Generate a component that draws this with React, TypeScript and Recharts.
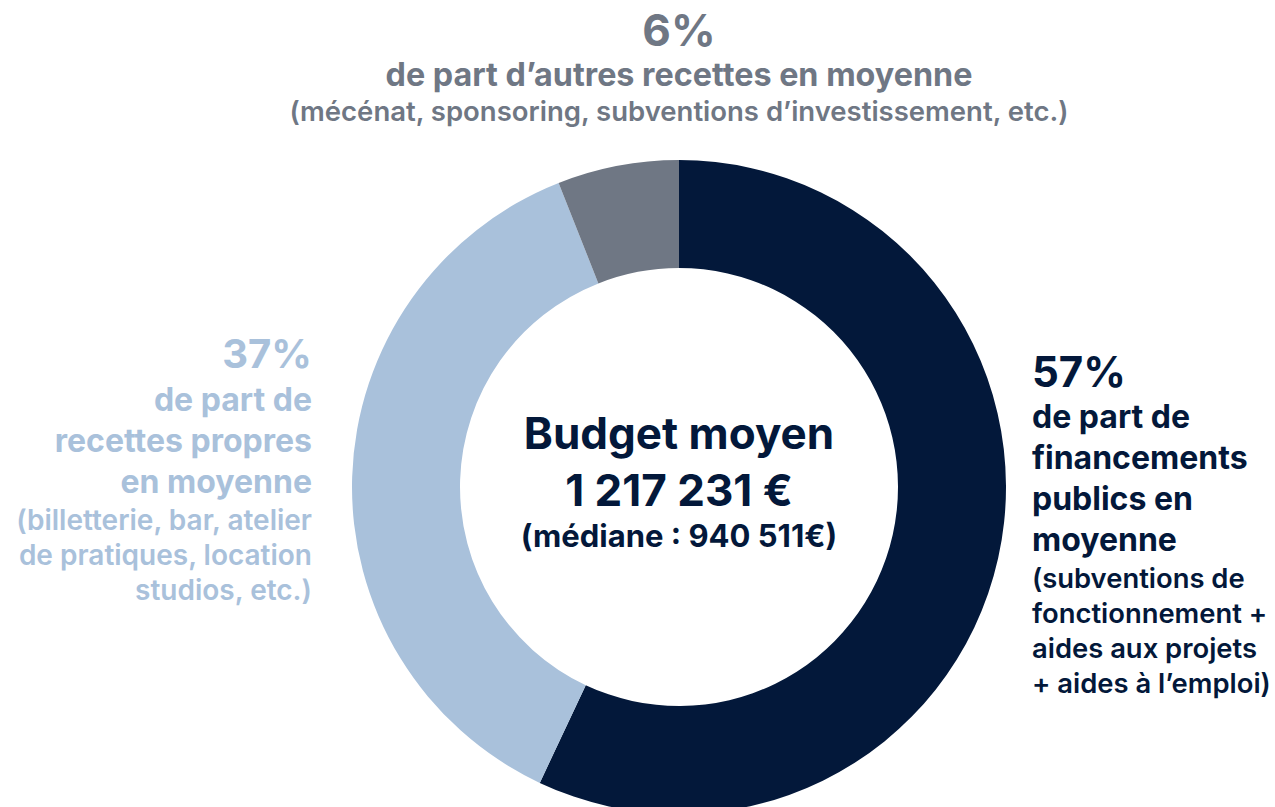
import React from 'react';
import { PieChart, Pie, Cell } from 'recharts';

// parts du budget moyen (%)
const categories = ['Financements publics', 'Recettes propres', 'Autres recettes'];
const shares = [57, 37, 6];
const COLORS = ['#03183a', '#a9c1db', '#6f7784'];

const budgetLines = ['Budget moyen', '1 217 231 €', '(médiane : 940 511€)'];
const publicLines = ['de part de', 'financements', 'publics en', 'moyenne'];
const publicNotes = ['(subventions de', 'fonctionnement +', 'aides aux projets', '+ aides à l’emploi)'];
const ownLines = ['de part de', 'recettes propres', 'en moyenne'];
const ownNotes = ['(billetterie, bar, atelier', 'de pratiques, location', 'studios, etc.)'];
const otherLines = ['de part d’autres recettes en moyenne'];
const otherNotes = ['(mécénat, sponsoring, subventions d’investissement, etc.)'];

const data = categories.map((name, i) => ({ name, value: shares[i] }));

const FONT = 'Inter, "Noto Sans", sans-serif';

const W = 1275;
const H = 807;
const CX = 679;
const CY = 487;

export default function App() {
  return (
    <div style={{ position: 'absolute', left: 0, top: 0, width: W, height: H, background: '#fff', fontFamily: FONT }}>
      <PieChart width={W} height={H} margin={{ top: 0, right: 0, bottom: 0, left: 0 }}>
        <Pie
          data={data}
          dataKey="value"
          cx={CX}
          cy={CY}
          innerRadius={219}
          outerRadius={327}
          startAngle={90}
          endAngle={-270}
          stroke="none"
          isAnimationActive={false}
        >
          {data.map((_d, i) => (
            <Cell key={`cell-${i}`} fill={COLORS[i]} />
          ))}
        </Pie>

        {/* centre */}
        <g fontFamily={FONT} fontWeight={700} fill={COLORS[0]} textAnchor="middle">
          <text x={CX} y={449} fontSize={44}>{budgetLines[0]}</text>
          <text x={CX} y={506} fontSize={44}>{budgetLines[1]}</text>
          <text x={CX} y={547} fontSize={31}>{budgetLines[2]}</text>
        </g>

        {/* haut : autres recettes */}
        <g fontFamily={FONT} fill={COLORS[2]} textAnchor="middle">
          <text x={CX} y={46} fontSize={44} fontWeight={700}>{`${shares[2]}%`}</text>
          {otherLines.map((t, i) => (
            <text key={t} x={CX} y={86 + i * 36} fontSize={32.3} fontWeight={700}>{t}</text>
          ))}
          {otherNotes.map((t, i) => (
            <text key={t} x={CX} y={121 + i * 34} fontSize={27.5} fontWeight={600}>{t}</text>
          ))}
        </g>

        {/* gauche : recettes propres */}
        <g fontFamily={FONT} fill={COLORS[1]} textAnchor="end">
          <text x={312} y={368} fontSize={40} fontWeight={700}>{`${shares[1]}%`}</text>
          {ownLines.map((t, i) => (
            <text key={t} x={312} y={411 + i * 41} fontSize={32} fontWeight={700}>{t}</text>
          ))}
          {ownNotes.map((t, i) => (
            <text key={t} x={312} y={530 + i * 35} fontSize={28} fontWeight={600}>{t}</text>
          ))}
        </g>

        {/* droite : financements publics */}
        <g fontFamily={FONT} fill={COLORS[0]} textAnchor="start">
          <text x={1032} y={387} fontSize={42} fontWeight={700}>{`${shares[0]}%`}</text>
          {publicLines.map((t, i) => (
            <text key={t} x={1032} y={428 + i * 41} fontSize={32} fontWeight={700}>{t}</text>
          ))}
          {publicNotes.map((t, i) => (
            <text key={t} x={1032} y={588 + i * 35} fontSize={27.4} fontWeight={600}>{t}</text>
          ))}
        </g>
      </PieChart>
    </div>
  );
}
